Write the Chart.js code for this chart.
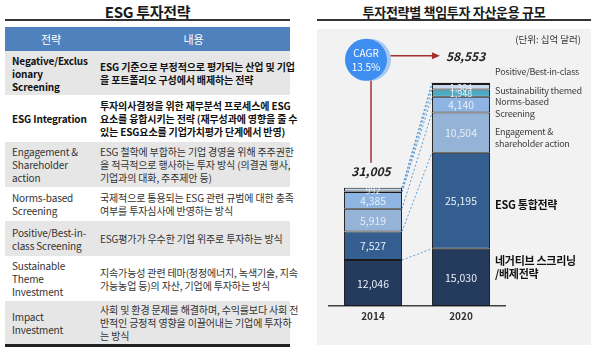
<!DOCTYPE html>
<html>
<head>
<meta charset="utf-8">
<script src="https://cdn.jsdelivr.net/npm/chart.js@4.4.0/dist/chart.umd.min.js"></script>
<style>
  body { margin: 0; width: 600px; height: 348px; background: #fff; position: relative; overflow: hidden;
         font-family: 'Noto Sans CJK KR', 'Noto Sans', sans-serif; color: #1a1a1a; }
  .title { position: absolute; top: 2px; font-size: 13px; font-weight: bold; text-align: center; letter-spacing: -0.3px; }
  .rule { position: absolute; top: 19px; height: 2px; background: #333; }
  table.esg { position: absolute; left: 5px; top: 27px; width: 285px; border-collapse: collapse; table-layout: fixed;
              font-size: 10px; letter-spacing: -0.15px; line-height: 13px; }
  table.esg th { background: #4f81bd; color: #fff; font-weight: normal; font-size: 11px; height: 24px; padding: 0; }
  table.esg td { vertical-align: middle; padding: 0 0 0 7px; white-space: nowrap; color: #333; }
  table.esg tr:nth-child(odd) td { background: #e6e6e6; }
  table.esg tr.b td { font-weight: bold; color: #111; }
  table.esg td.c2 { padding-left: 3px; }
  .bottom { position: absolute; left: 5px; top: 344px; width: 285px; height: 3px; background: #222; }
  .panel { position: absolute; left: 317px; top: 29px; width: 274px; height: 316px; background: #f2f2f2; }
  .unit { position: absolute; right: 10px; top: 3px; font-size: 9.5px; color: #333; }
  canvas { position: absolute; left: 0; top: 0; }
</style>
</head>
<body>
<div class="title" style="left:5px;width:285px;font-size:15px;top:1px">ESG 투자전략</div>
<div class="rule" style="left:5px;width:285px"></div>
<table class="esg">
  <colgroup><col style="width:92px"><col></colgroup>
  <thead><tr><th>전략</th><th>내용</th></tr></thead>
  <tbody>
    <tr class="b" style="height:44px"><td>Negative/Exclus<br>ionary<br>Screening</td><td class="c2">ESG 기준으로 부정적으로 평가되는 산업 및 기업<br>을 포트폴리오 구성에서 배제하는 전략</td></tr>
    <tr class="b" style="height:47px"><td>ESG Integration</td><td class="c2">투자의사결정을 위한 재무분석 프로세스에 ESG<br>요소를 융합시키는 전략 (재무성과에 영향을 줄 수<br>있는 ESG요소를 기업가치평가 단계에서 반영)</td></tr>
    <tr style="height:45px"><td>Engagement &amp;<br>Shareholder<br>action</td><td class="c2">ESG 철학에 부합하는 기업 경영을 위해 주주권한<br>을 적극적으로 행사하는 투자 방식 (의결권 행사,<br>기업과의 대화, 주주제안 등)</td></tr>
    <tr style="height:34px"><td>Norms-based<br>Screening</td><td class="c2">국제적으로 통용되는 ESG 관련 규범에 대한 충족<br>여부를 투자심사에 반영하는 방식</td></tr>
    <tr style="height:35px"><td>Positive/Best-in-<br>class Screening</td><td class="c2">ESG평가가 우수한 기업 위주로 투자하는 방식</td></tr>
    <tr style="height:45px"><td>Sustainable<br>Theme<br>Investment</td><td class="c2">지속가능성 관련 테마(청정에너지, 녹색기술, 지속<br>가능농업 등)의 자산, 기업에 투자하는 방식</td></tr>
    <tr style="height:43px"><td>Impact<br>Investment</td><td class="c2">사회 및 환경 문제를 해결하며, 수익률보다 사회 전<br>반적인 긍정적 영향을 이끌어내는 기업에 투자하<br>는 방식</td></tr>
  </tbody>
</table>
<div class="bottom"></div>

<div class="title" style="left:317px;width:274px">투자전략별 책임투자 자산운용 규모</div>
<div class="rule" style="left:317px;width:274px"></div>
<div class="panel">
  <canvas id="chart" width="274" height="316"></canvas>
  <div class="unit">(단위: 십억 달러)</div>
</div>

<script>
const FONT = "'Noto Sans CJK KR', 'Noto Sans', sans-serif";

// values in billion USD, bottom to top of each stack
const years = ['2014', '2020'];
const negative = [12046, 15030];
const integration = [7527, 25195];
const engagement = [5919, 10504];
const norms = [4385, 4140];
const themed = [136, 1948];
const positive = [992, 1384];
const impact = [0, 352];
const totals = [31005, 58553];
const cagrText = ['CAGR', '13.5%'];

// right-hand labels for the 2020 stack (one per dataset, null = none)
const sideLabels = [
  { lines: ['네거티브 스크리닝', '/배제전략'], bold: true, dy: -10 },
  { lines: ['ESG 통합전략'], bold: true, dy: 4 },
  { lines: ['Engagement &', 'shareholder action'], bold: false, dy: 5 },
  { lines: ['Norms-based', 'Screening'], bold: false, dy: 3 },
  { lines: ['Sustainability themed'], bold: false, dy: -3 },
  { lines: ['Positive/Best-in-class'], bold: false, dy: -15 },
  null,
];

const series = [
  { label: 'Negative/Exclusionary', data: negative, color: '#243b5e' },
  { label: 'ESG Integration', data: integration, color: '#355e90' },
  { label: 'Engagement', data: engagement, color: '#95b3d7' },
  { label: 'Norms-based', data: norms, color: '#8db4e2' },
  { label: 'Sustainability themed', data: themed, color: '#4bacc6' },
  { label: 'Positive/Best-in-class', data: positive, color: '#c6d9f0' },
  { label: 'Impact', data: impact, color: '#dce6f2' },
];

const fmt = v => v.toLocaleString('en-US');

const overlay = {
  id: 'overlay',
  beforeDatasetsDraw(chart) {
    // dashed connectors between stack boundaries
    const ctx = chart.ctx, y = chart.scales.y;
    const m0 = chart.getDatasetMeta(0).data;
    const xa = m0[0].x + m0[0].width / 2, xb = m0[1].x - m0[1].width / 2;
    let c0 = 0, c1 = 0;
    ctx.save();
    ctx.strokeStyle = '#5b9bd5';
    ctx.lineWidth = 1;
    ctx.setLineDash([2, 2]);
    series.forEach(s => {
      c0 += s.data[0]; c1 += s.data[1];
      ctx.beginPath();
      ctx.moveTo(xa, y.getPixelForValue(c0));
      ctx.lineTo(xb, y.getPixelForValue(c1));
      ctx.stroke();
    });
    ctx.restore();
  },
  afterDatasetsDraw(chart) {
    const ctx = chart.ctx, y = chart.scales.y;
    ctx.save();
    ctx.textAlign = 'center';
    ctx.textBaseline = 'middle';

    // segment values
    chart.data.datasets.forEach((ds, di) => {
      chart.getDatasetMeta(di).data.forEach((bar, i) => {
        const v = ds.data[i];
        if (v < 900) return;
        const h = bar.base - bar.y;
        ctx.font = (h < 10 ? '9px ' : '10.5px ') + FONT;
        ctx.fillStyle = '#e6eef8';
        ctx.fillText(fmt(v), bar.x, (bar.y + bar.base) / 2 + 0.5);
      });
    });

    // labels beside the 2020 stack
    const m = chart.getDatasetMeta(0).data[1];
    const xr = m.x + m.width / 2 + 5;
    ctx.textAlign = 'left';
    sideLabels.forEach((lab, di) => {
      if (!lab) return;
      const bar = chart.getDatasetMeta(di).data[1];
      const cy = (bar.y + bar.base) / 2 + lab.dy;
      const lh = lab.bold ? 13 : 12;
      ctx.font = lab.bold ? 'bold 11px ' + FONT : '9px ' + FONT;
      ctx.letterSpacing = lab.bold ? '-0.3px' : '-0.25px';
      ctx.fillStyle = lab.bold ? '#111' : '#404040';
      lab.lines.forEach((t, k) => {
        ctx.fillText(t, xr, cy + (k - (lab.lines.length - 1) / 2) * lh);
      });
    });
    ctx.letterSpacing = '0px';

    // CAGR bubble and arrows
    const b0 = chart.getDatasetMeta(0).data[0];
    const b1 = chart.getDatasetMeta(0).data[1];
    const top0 = y.getPixelForValue(totals[0]);
    const top1 = y.getPixelForValue(totals[1]);
    const r = 21;
    const cx = b0.x - 7, cy = top1 - 23;
    const red = '#a3302f';

    ctx.strokeStyle = red;
    ctx.lineWidth = 1.5;
    ctx.beginPath();
    ctx.moveTo(cx + 5, cy);
    ctx.lineTo(cx + 5, top0 - 25);
    ctx.stroke();
    const ay = top1 - 27, ax = b1.x - b1.width / 2 + 6;
    ctx.beginPath();
    ctx.moveTo(cx, ay);
    ctx.lineTo(ax - 5, ay);
    ctx.stroke();
    ctx.fillStyle = red;
    ctx.beginPath();
    ctx.moveTo(ax + 2, ay);
    ctx.lineTo(ax - 6, ay - 3.5);
    ctx.lineTo(ax - 6, ay + 3.5);
    ctx.closePath();
    ctx.fill();

    ctx.fillStyle = '#a9c9f2';
    ctx.beginPath();
    ctx.arc(cx + 4, cy, r, 0, Math.PI * 2);
    ctx.fill();
    ctx.fillStyle = '#3d8ef0';
    ctx.beginPath();
    ctx.arc(cx, cy, r, 0, Math.PI * 2);
    ctx.fill();
    ctx.fillStyle = '#fff';
    ctx.textAlign = 'center';
    ctx.font = '10px ' + FONT;
    ctx.fillText(cagrText[0], cx, cy - 7);
    ctx.fillText(cagrText[1], cx, cy + 7);

    // totals
    ctx.fillStyle = '#222';
    ctx.font = 'italic bold 12px ' + FONT;
    ctx.fillText(fmt(totals[0]), b0.x - 2, top0 - 16);
    ctx.textAlign = 'left';
    ctx.fillText(fmt(totals[1]), ax + 8, ay + 1);
    ctx.restore();
  },
};

new Chart(document.getElementById('chart'), {
  type: 'bar',
  data: {
    labels: years,
    datasets: series.map(s => ({
      label: s.label,
      data: s.data,
      backgroundColor: s.color,
      borderColor: '#1a1a1a',
      borderWidth: 1,
      borderSkipped: false,
      barPercentage: 0.66,
      categoryPercentage: 1,
    })),
  },
  options: {
    responsive: false,
    animation: false,
    layout: { padding: { left: 12, right: 86, top: 33, bottom: 19 } },
    plugins: { legend: { display: false }, tooltip: { enabled: false } },
    scales: {
      x: {
        stacked: true,
        grid: { display: false, drawTicks: false },
        border: { display: true, color: '#404040', width: 1.5 },
        ticks: { padding: 4, color: '#333', font: { size: 10, weight: 'bold', family: FONT } },
      },
      y: { stacked: true, display: false, min: 0, max: 64000 },
    },
  },
  plugins: [overlay],
});
</script>
</body>
</html>
